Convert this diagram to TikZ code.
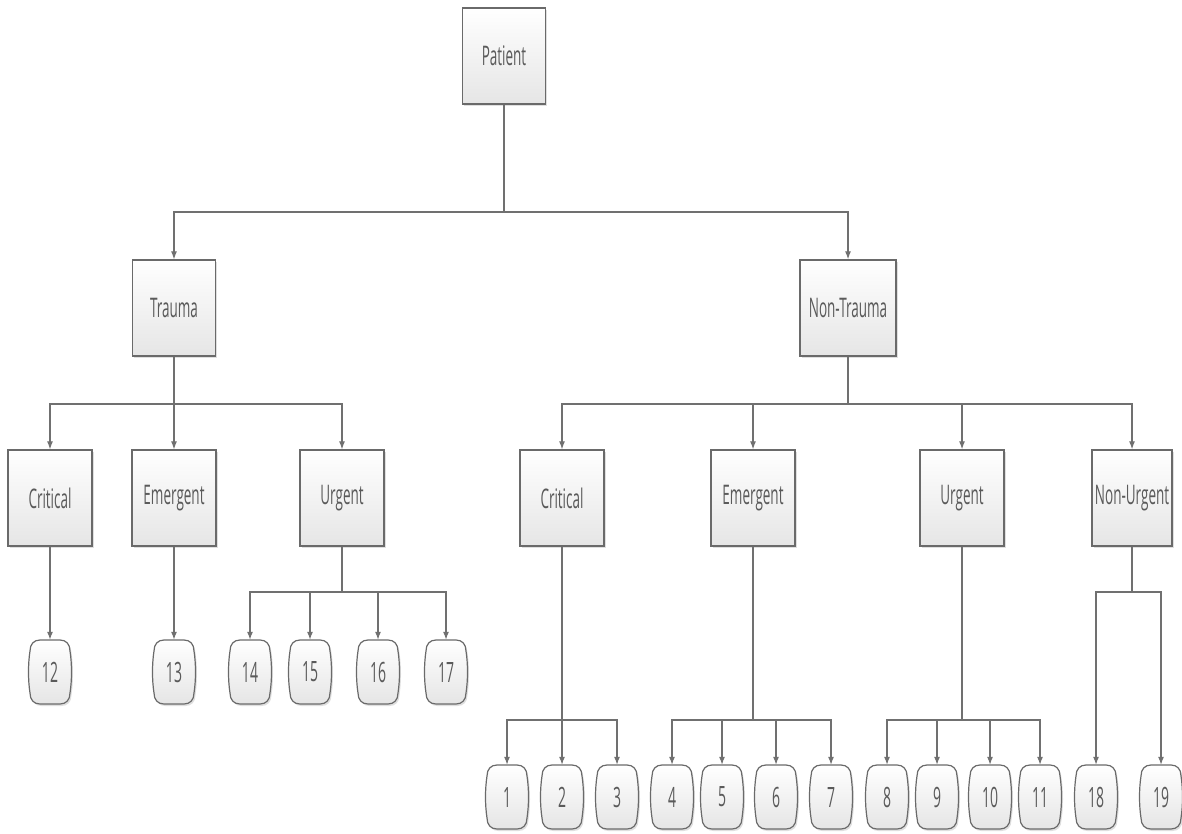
\documentclass[tikz,border=0pt]{standalone}
\usepackage{fontspec}
\setmainfont{Open Sans}[FakeStretch=0.5]
\usetikzlibrary{arrows.meta,shadows}
\definecolor{linecol}{HTML}{707070}
\definecolor{boxborder}{HTML}{6A6A6A}
\definecolor{txtcol}{HTML}{5A5A5A}
\tikzset{
  box/.style={draw=boxborder, line width=1.3pt, top color=white, bottom color=black!10,
    minimum width=83, minimum height=96, inner sep=0pt, text=txtcol,
    font=\fontsize{27}{30}\selectfont,
    drop shadow={shadow xshift=1.5pt, shadow yshift=-2pt, opacity=0.25}},
  leafshape/.style={draw=boxborder, line width=1.2pt, top color=white, bottom color=black!10,
    drop shadow={shadow xshift=1.5pt, shadow yshift=-2pt, opacity=0.25}},
  leaftxt/.style={minimum width=40, minimum height=64, inner sep=0pt, text=txtcol,
    font=\fontsize{28}{30}\selectfont},
  conn/.style={draw=linecol, line width=1.2pt},
  arr/.style={conn, -{Latex[length=8pt,width=6pt]}},
}
\newcommand\leafat[4]{%
  \begin{scope}[shift={(#2,#3)}]
    \path[leafshape] (-10,-32) -- (10,-32) .. controls (16,-32) and (20,-28) .. (20,-21)
      .. controls (22,-8) and (22,8) .. (20,21) .. controls (20,28) and (16,32) .. (10,32)
      -- (-10,32) .. controls (-16,32) and (-20,28) .. (-20,21)
      .. controls (-22,8) and (-22,-8) .. (-20,-21) .. controls (-20,-28) and (-16,-32) .. (-10,-32) -- cycle;
    \node[leaftxt] (#1) at (0,0) {#4};
  \end{scope}}
\begin{document}
\begin{tikzpicture}[x=1pt,y=-1pt]
\useasboundingbox[fill=white] (0,0) rectangle (1182,834);
% level 0-1
\node[box] (P) at (504,56) {Patient};
\node[box] (T) at (174,308) {Trauma};
\node[box,minimum width=96] (NT) at (848,308) {Non-Trauma};
% level 2
\node[box,minimum width=84] (TC) at (50,498) {Critical};
\node[box,minimum width=84] (TE) at (174,498) {Emergent};
\node[box,minimum width=84] (TU) at (342,498) {Urgent};
\node[box,minimum width=84] (NC) at (562,498) {Critical};
\node[box,minimum width=84] (NE) at (753,498) {Emergent};
\node[box,minimum width=84] (NU) at (962,498) {Urgent};
\node[box,minimum width=80] (NN) at (1132,498) {Non-Urgent};
% leaves row A
\leafat{l12}{50}{672}{12}
\leafat{l13}{174}{672}{13}
\leafat{l14}{250}{672}{14}
\leafat{l15}{310}{672}{15}
\leafat{l16}{378}{672}{16}
\leafat{l17}{446}{672}{17}
% leaves row B
\leafat{l1}{507}{797}{1}
\leafat{l2}{562}{797}{2}
\leafat{l3}{617}{797}{3}
\leafat{l4}{672}{797}{4}
\leafat{l5}{722}{797}{5}
\leafat{l6}{776}{797}{6}
\leafat{l7}{831}{797}{7}
\leafat{l8}{887}{797}{8}
\leafat{l9}{937}{797}{9}
\leafat{l10}{990}{797}{10}
\leafat{l11}{1040}{797}{11}
\leafat{l18}{1096}{797}{18}
\leafat{l19}{1161}{797}{19}
% bus points
\coordinate (bP) at (504,212);
\coordinate (bT) at (174,404);
\coordinate (bNT) at (848,404);
\coordinate (bTU) at (342,592);
\coordinate (bNC) at (562,720);
\coordinate (bNE) at (753,720);
\coordinate (bNU) at (962,720);
\coordinate (bNN) at (1132,592);
% connectors
\draw[conn] (P) -- (bP);
\draw[arr] (bP) -| (T);
\draw[arr] (bP) -| (NT);
\draw[conn] (T) -- (bT);
\draw[arr] (bT) -| (TC);
\draw[arr] (bT) -| (TE);
\draw[arr] (bT) -| (TU);
\draw[conn] (NT) -- (bNT);
\foreach \c in {NC,NE,NU,NN} \draw[arr] (bNT) -| (\c);
\draw[arr] (TC) -- (l12);
\draw[arr] (TE) -- (l13);
\draw[conn] (TU) -- (bTU);
\foreach \c in {l14,l15,l16,l17} \draw[arr] (bTU) -| (\c);
\draw[conn] (NC) -- (bNC);
\foreach \c in {l1,l2,l3} \draw[arr] (bNC) -| (\c);
\draw[conn] (NE) -- (bNE);
\foreach \c in {l4,l5,l6,l7} \draw[arr] (bNE) -| (\c);
\draw[conn] (NU) -- (bNU);
\foreach \c in {l8,l9,l10,l11} \draw[arr] (bNU) -| (\c);
\draw[conn] (NN) -- (bNN);
\foreach \c in {l18,l19} \draw[arr] (bNN) -| (\c);
\end{tikzpicture}
\end{document}
